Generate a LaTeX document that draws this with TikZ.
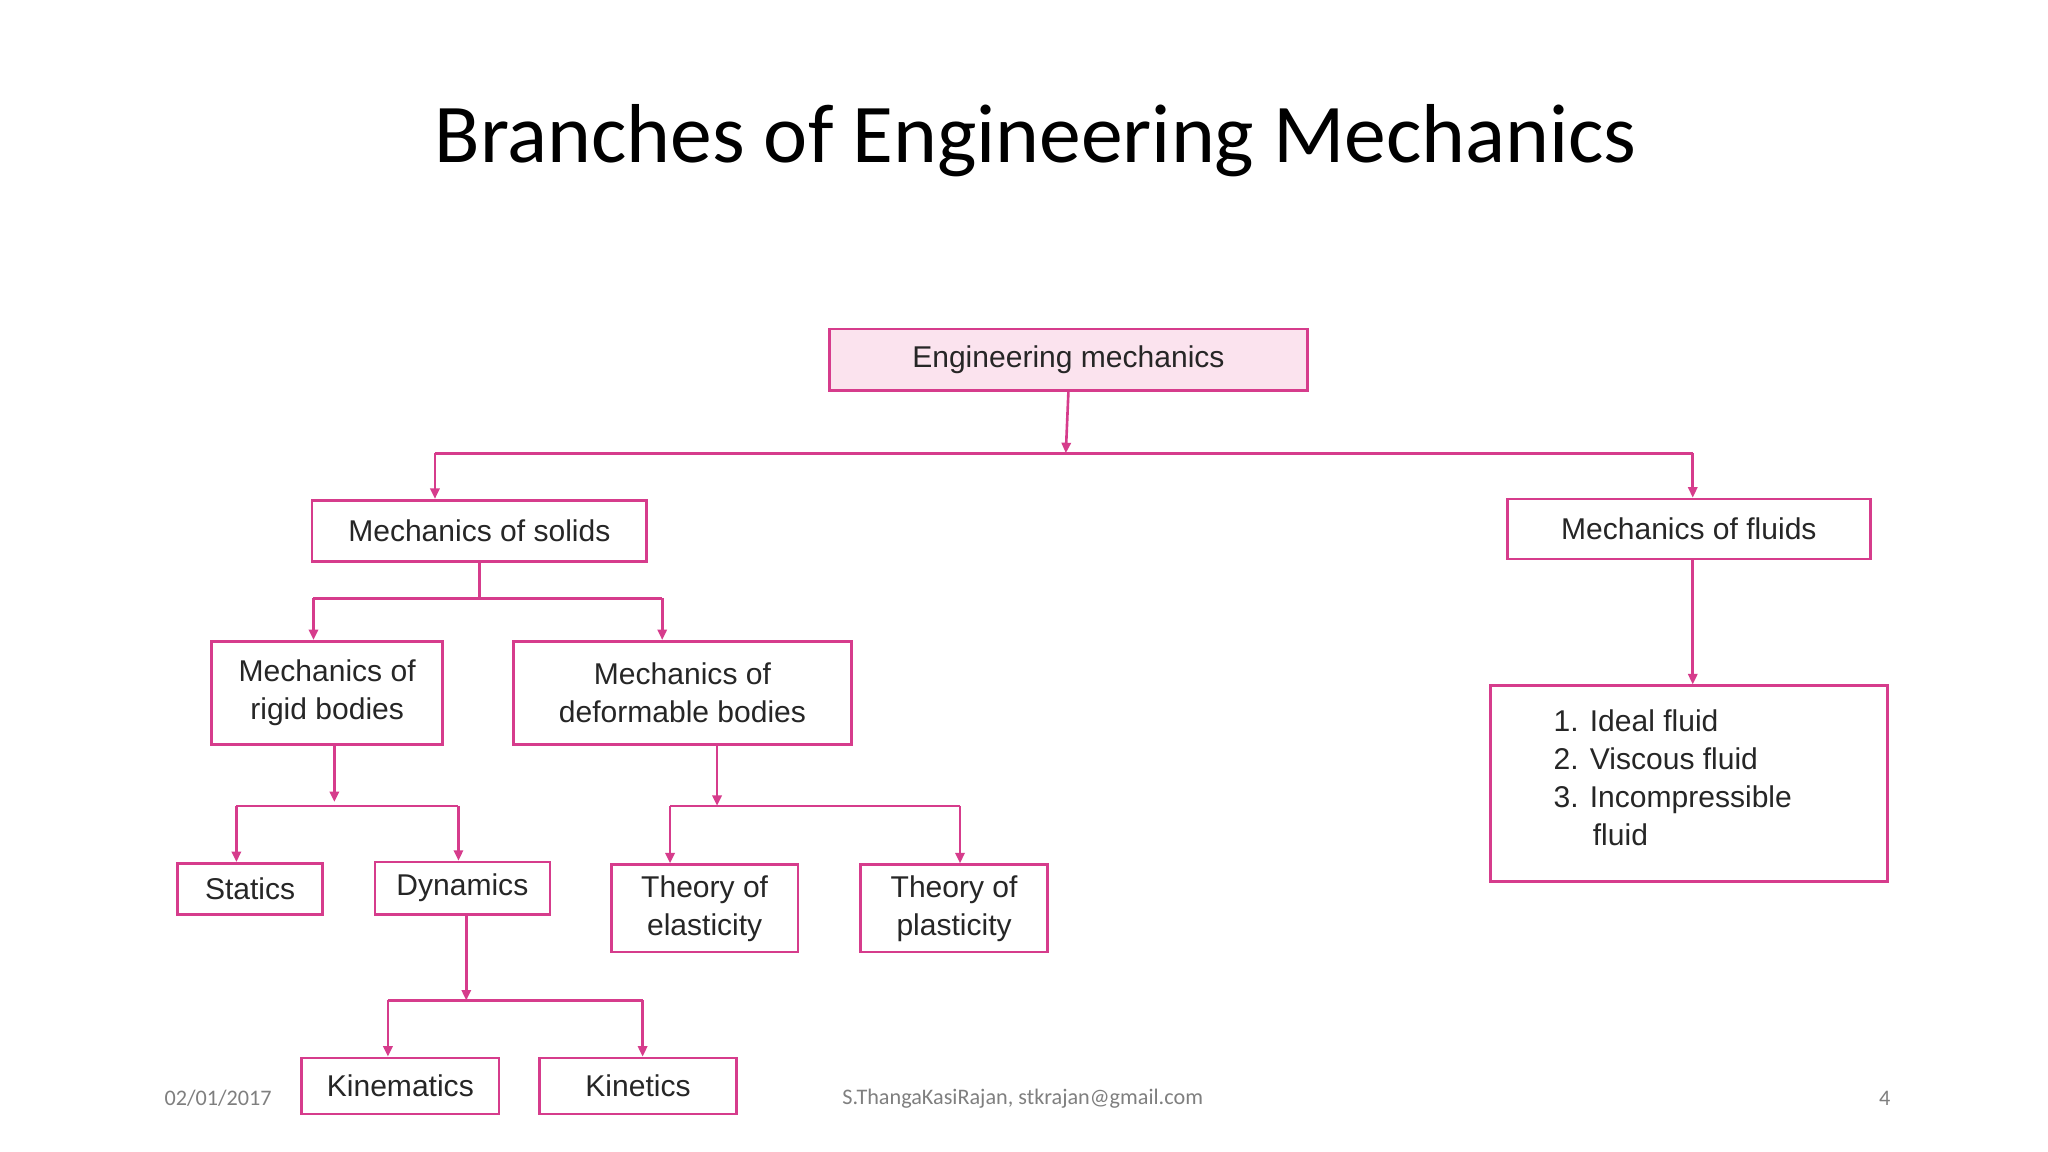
\documentclass[tikz,border=0pt]{standalone}
\usepackage{fontspec}
\setmainfont{Liberation Sans}
\newfontfamily\titlefont{Carlito}
\usetikzlibrary{arrows.meta}
\definecolor{mag}{HTML}{D63C8C}
\definecolor{pinkfill}{HTML}{FBE3EE}
\definecolor{foot}{HTML}{7F7F7F}
\begin{document}
\begin{tikzpicture}[x=1pt,y=-1pt,
  box/.style={draw=mag,line width=2pt,fill=white,inner sep=0pt,font=\fontsize{23}{29}\selectfont,text=black!85,align=center},
  con/.style={draw=mag,line width=2pt},
  arr/.style={con,-{Triangle[length=8pt,width=7pt]}}]
\useasboundingbox[fill=white] (0,0) rectangle (1568,882);
\node[font=\titlefont\fontsize{64}{70}\selectfont] (title) at (793,108) {Branches of Engineering Mechanics};
\newcommand\bx[6]{\node[box,minimum width=#4-#2,minimum height=#5-#3,#6] (#1) at ({(#2+#4)/2},{(#3+#5)/2})}
\bx{em}{635}{252}{1001}{299}{fill=pinkfill}{Engineering mechanics};
\bx{ms}{239}{383}{495}{430}{}{Mechanics of solids};
\bx{mf}{1154}{382}{1432}{428}{}{Mechanics of fluids};
\bx{rb}{162}{491}{339}{570}{}{Mechanics of\\rigid bodies};
\bx{db}{393}{491}{652}{570}{}{Mechanics of\\deformable bodies};
\bx{st}{136}{661}{247}{700}{}{Statics};
\bx{dy}{287}{660}{421}{700}{}{Dynamics};
\bx{km}{231}{810}{382}{853}{}{Kinematics};
\bx{kt}{413}{810}{564}{853}{}{Kinetics};
\bx{el}{468}{662}{611}{729}{}{Theory of\\elasticity};
\bx{pl}{659}{662}{802}{729}{}{Theory of\\plasticity};
\bx{fl}{1141}{525}{1445}{675}{}{};
\node[font=\fontsize{23}{29}\selectfont,text=black!85,align=left,anchor=north west] (fltext) at (1186,540) {1. Ideal fluid\\2. Viscous fluid\\3. Incompressible\\\hspace*{30pt}fluid};
% connectors
\coordinate (j1) at (816,347);
\coordinate (j1l) at (333,347); \coordinate (j1r) at (1296,347);
\draw[arr] (em.south) -- (j1);
\draw[con] (j1l) -- (j1r);
\draw[arr] (j1l) -- (j1l|-ms.north);
\draw[arr] (j1r) -- (j1r|-mf.north);
\coordinate (j2) at (367,458); \coordinate (j2l) at (240,458); \coordinate (j2r) at (507,458);
\draw[con] (ms.south-|j2) -- (j2);
\draw[con] (j2l) -- (j2r);
\draw[arr] (j2l) -- (j2l|-rb.north);
\draw[arr] (j2r) -- (j2r|-db.north);
\coordinate (j3) at (256,617); \coordinate (j3l) at (181,617); \coordinate (j3r) at (351,617);
\draw[arr] (rb.south-|j3) -- (256,614);
\draw[con] (j3l) -- (j3r);
\draw[arr] (j3l) -- (j3l|-st.north);
\draw[arr] (j3r) -- (j3r|-dy.north);
\coordinate (j4) at (357,766); \coordinate (j4l) at (297,766); \coordinate (j4r) at (492,766);
\draw[arr] (dy.south-|j4) -- (j4);
\draw[con] (j4l) -- (j4r);
\draw[arr] (j4l) -- (j4l|-km.north);
\draw[arr] (j4r) -- (j4r|-kt.north);
\coordinate (j5) at (549,617); \coordinate (j5l) at (513,617); \coordinate (j5r) at (735,617);
\draw[arr] (db.south-|j5) -- (j5);
\draw[con] (j5l) -- (j5r);
\draw[arr] (j5l) -- (j5l|-el.north);
\draw[arr] (j5r) -- (j5r|-pl.north);
\draw[arr] (mf.south-|j1r) -- (j1r|-fl.north);
% footer
\node[font=\titlefont\fontsize{17}{20}\selectfont,text=foot] (date) at (167,841) {02/01/2017};
\node[font=\titlefont\fontsize{17}{20}\selectfont,text=foot] (auth) at (783,841) {S.ThangaKasiRajan, stkrajan@gmail.com};
\node[font=\titlefont\fontsize{17}{20}\selectfont,text=foot] (pg) at (1443,841) {4};
\end{tikzpicture}
\end{document}
